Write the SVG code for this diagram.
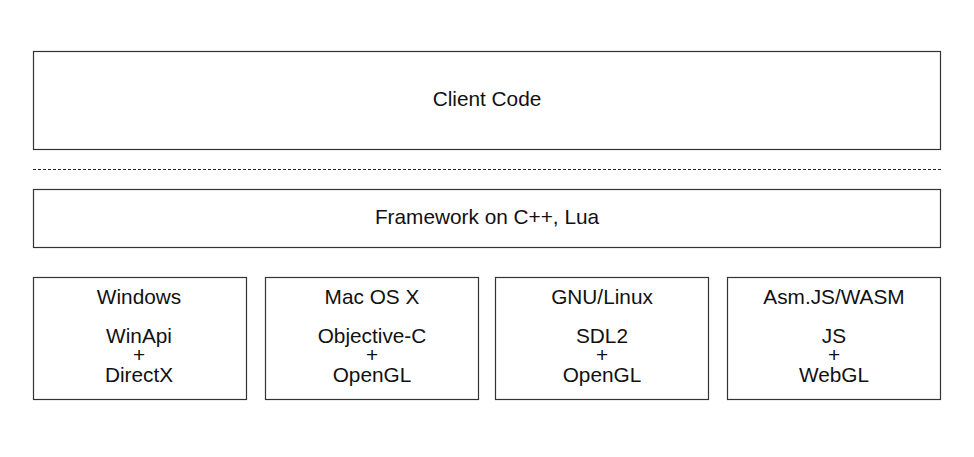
<svg xmlns="http://www.w3.org/2000/svg" width="974" height="457" viewBox="0 0 974 457">
<style>
.box{fill:#fff;stroke:#333;stroke-width:1.2}
.t{font-family:"Liberation Sans",Arial,sans-serif;font-size:20.8px;fill:#111;text-anchor:middle}
</style>
<rect width="974" height="457" fill="#fff"/>
<g id="client"><rect class="box" x="33.5" y="51.5" width="907" height="98"/><text class="t" x="487" y="106">Client Code</text></g>
<g id="connectors"><line x1="33" y1="169.5" x2="941" y2="169.5" stroke="#222" stroke-width="1" stroke-dasharray="3,2"/></g>
<g id="framework"><rect class="box" x="33.5" y="189.5" width="907" height="58"/><text class="t" x="487" y="224">Framework on C++, Lua</text></g>
<g id="windows"><rect class="box" x="33.5" y="277.5" width="213" height="122"/>
<text class="t" x="139" y="304">Windows</text><text class="t" x="139" y="343">WinApi</text><text class="t" x="139" y="362">+</text><text class="t" x="139" y="382">DirectX</text></g>
<g id="macos"><rect class="box" x="265.5" y="277.5" width="213" height="122"/>
<text class="t" x="372" y="304">Mac OS X</text><text class="t" x="372" y="343">Objective-C</text><text class="t" x="372" y="362">+</text><text class="t" x="372" y="382">OpenGL</text></g>
<g id="linux"><rect class="box" x="495.5" y="277.5" width="213" height="122"/>
<text class="t" x="602" y="304">GNU/Linux</text><text class="t" x="602" y="343">SDL2</text><text class="t" x="602" y="362">+</text><text class="t" x="602" y="382">OpenGL</text></g>
<g id="web"><rect class="box" x="727.5" y="277.5" width="213" height="122"/>
<text class="t" x="834" y="304">Asm.JS/WASM</text><text class="t" x="834" y="343">JS</text><text class="t" x="834" y="362">+</text><text class="t" x="834" y="382">WebGL</text></g>
</svg>
